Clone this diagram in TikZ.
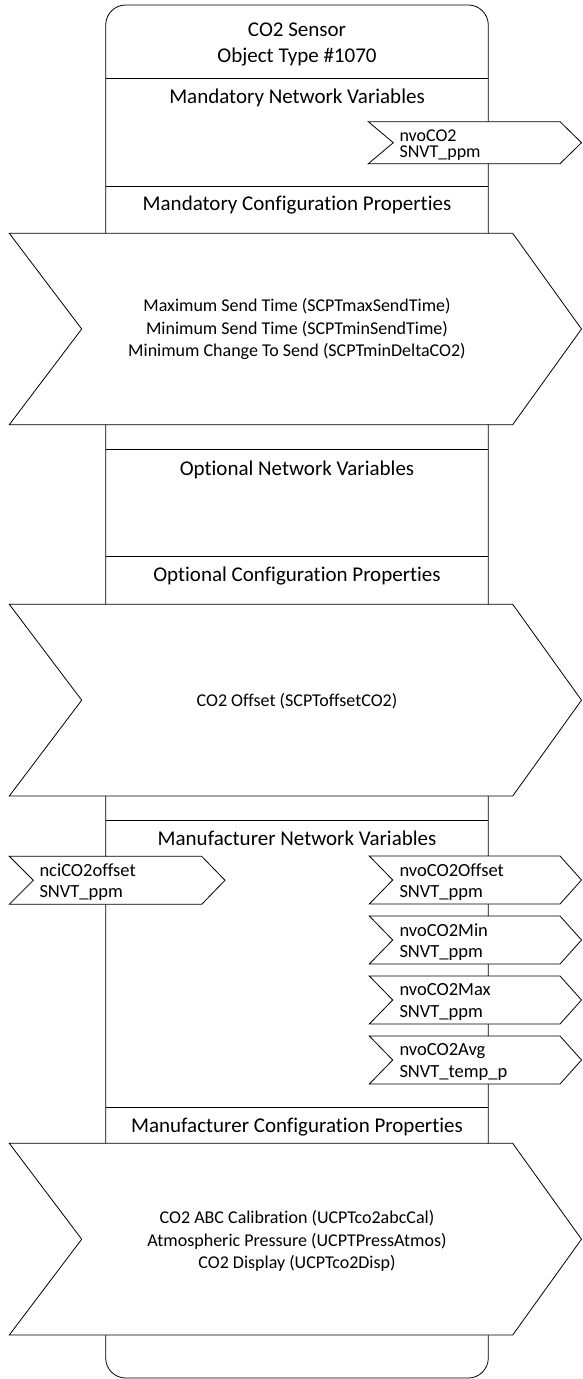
\documentclass[tikz,border=0pt]{standalone}
\usepackage{fontspec}
\setmainfont{Carlito}[Ligatures={NoCommon,NoRequired,NoContextual}]
\begin{document}
\begin{tikzpicture}[x=1pt,y=-1pt,
  outline/.style={draw=black,line width=0.8pt},
  chev/.style={draw=black,line width=0.8pt,fill=white,line join=miter},
  head/.style={font=\fontsize{21}{25}\selectfont,inner sep=0pt,anchor=base},
  title/.style={font=\fontsize{21}{25.5}\selectfont,align=center,inner sep=0pt},
  body/.style={font=\fontsize{18}{22.5}\selectfont,align=center,inner sep=0pt},
  tag/.style={font=\fontsize{18.5}{21.7}\selectfont,align=left,anchor=west,inner sep=0pt},
  tagtight/.style={font=\fontsize{18}{15.5}\selectfont,align=left,anchor=west,inner sep=0pt}]
\useasboundingbox (0,0) rectangle (582,1379);

% object frame
\draw[outline,rounded corners=20pt] (105.7,5) rectangle (488.3,1378);

% section dividers
\foreach \yy in {78.3,186,449.3,556.7,820.7,1107.7}
  \draw[outline] (105.7,\yy) -- (488.3,\yy);

% headings
\node[title] (title) at (297,44.5) {CO2 Sensor\\Object Type \#1070};
\node[head] (mnv)  at (297,103.3)  {Mandatory Network Variables};
\node[head] (mcp)  at (297,210)    {Mandatory Configuration Properties};
\node[head] (onv)  at (297,475)    {Optional Network Variables};
\node[head] (ocp)  at (297,581.7)  {Optional Configuration Properties};
\node[head] (fnv)  at (297,845.3)  {Manufacturer Network Variables};
\node[head] (fcp)  at (297,1132.7) {Manufacturer Configuration Properties};

% configuration property bands
\draw[chev] (9.3,233.3) -- (512.7,233.3) -- (581.5,329) -- (512.7,424.7)
  -- (9.3,424.7) -- (81.7,329) -- cycle;
\node[body] (mandcp) at (297,329) {Maximum Send Time (SCPTmaxSendTime)\\
  Minimum Send Time (SCPTminSendTime)\\Minimum Change To Send (SCPTminDeltaCO2)};

\draw[chev] (9.3,604.3) -- (512.7,604.3) -- (581.5,700.2) -- (512.7,796)
  -- (9.3,796) -- (81.7,700.2) -- cycle;
\node[body] (optcp) at (297,701) {CO2 Offset (SCPToffsetCO2)};

\draw[chev] (9.3,1143.3) -- (512.7,1143.3) -- (581.5,1239.2) -- (512.7,1335)
  -- (9.3,1335) -- (81.7,1239.2) -- cycle;
\node[body] (mfrcp) at (297,1241) {CO2 ABC Calibration (UCPTco2abcCal)\\
  Atmospheric Pressure (UCPTPressAtmos)\\CO2 Display (UCPTco2Disp)};

% mandatory output variable
\draw[chev] (368.3,121.7) -- (560,121.7) -- (581.5,142.7) -- (560,163.7)
  -- (368.3,163.7) -- (393.3,142.7) -- cycle;
\node[tagtight] (nvoCO2) at (399.3,145) {nvoCO2\\SNVT\_ppm};

% manufacturer input variable
\draw[chev] (9.3,856.3) -- (201.7,856.3) -- (225,880.3) -- (201.7,904.3)
  -- (9.3,904.3) -- (33.3,880.3) -- cycle;
\node[tag] (nci) at (39.3,882) {nciCO2offset\\SNVT\_ppm};

% manufacturer output variables
\foreach \top/\nm/\ty [count=\i] in {856/nvoCO2Offset/ppm,916/nvoCO2Min/ppm,
    976/nvoCO2Max/ppm,1036/nvoCO2Avg/temp\_p}{
  \draw[chev] (369.3,\top) -- (560,\top) -- (581.5,\top+24) -- (560,\top+48)
    -- (369.3,\top+48) -- (392.7,\top+24) -- cycle;
  \node[tag] (out\i) at (399.3,\top+26) {\nm\\SNVT\_\ty};
}
\end{tikzpicture}
\end{document}
